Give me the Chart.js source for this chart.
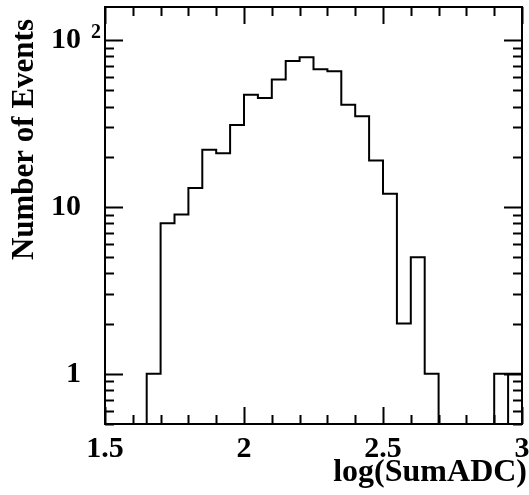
<!DOCTYPE html>
<html>
<head>
<meta charset="utf-8">
<script src="https://cdn.jsdelivr.net/npm/chart.js@4.4.1/dist/chart.umd.min.js"></script>
<style>
  html, body { margin: 0; padding: 0; background: #fff; }
  #wrap { width: 529px; height: 495px; }
</style>
</head>
<body>
<div id="wrap"><canvas id="hist" width="529" height="495"></canvas></div>
<script>
// --- data ---
const binEdges = [1.50, 1.55, 1.60, 1.65, 1.70, 1.75, 1.80, 1.85, 1.90, 1.95,
                  2.00, 2.05, 2.10, 2.15, 2.20, 2.25, 2.30, 2.35, 2.40, 2.45,
                  2.50, 2.55, 2.60, 2.65, 2.70, 2.75, 2.80, 2.85, 2.90, 2.95, 3.00];
const counts = [0, 0, 0, 1, 8, 9, 13, 22, 21, 31,
                47, 45, 58, 75, 79, 67, 65, 41, 35, 19,
                12, 2, 5, 1, 0, 0, 0, 0, 1, 1];
const xTicks = [1.5, 2, 2.5, 3];
const xTickLabels = ['1.5', '2', '2.5', '3'];
const yTicks = [1, 10, 100];
const yTickLabels = ['1', '10', '10'];
const yTickSup = ['', '', '2'];
const xTitle = 'log(SumADC)';
const yTitle = 'Number of Events';

const Y_MIN = 0.5, Y_MAX = 158;
const FONT = '"Liberation Serif", "Times New Roman", serif';

// outline of the histogram; empty bins sit on the floor of the log axis
const outline = [];
counts.forEach((c, i) => {
  const v = c > 0 ? c : Y_MIN;
  outline.push({ x: binEdges[i], y: v });
  outline.push({ x: binEdges[i + 1], y: v });
});
// the last bin is closed on its left side too
const last = counts.length - 1;
const lastEdge = [
  { x: binEdges[last], y: Y_MIN },
  { x: binEdges[last], y: counts[last] }
];

// frame, inward ticks, superscripts and axis titles (ROOT look)
const rootFrame = {
  id: 'rootFrame',
  afterDraw(chart) {
    const { ctx, chartArea: a, scales: { x, y } } = chart;
    ctx.save();
    ctx.strokeStyle = '#000';
    ctx.lineWidth = 2;
    ctx.strokeRect(a.left, a.top, a.right - a.left, a.bottom - a.top);

    ctx.beginPath();
    // x ticks every 0.1, major at the labelled values
    for (let k = 15; k <= 30; k++) {
      const v = k / 10;
      const px = Math.round(x.getPixelForValue(v)) + 0.5;
      const len = xTicks.some(t => Math.abs(t - v) < 1e-6) ? 17 : 9;
      ctx.moveTo(px, a.bottom); ctx.lineTo(px, a.bottom - len);
      ctx.moveTo(px, a.top); ctx.lineTo(px, a.top + len);
    }
    // y ticks: 1..9 per decade
    for (let d = -1; d <= 2; d++) {
      for (let m = 1; m <= 9; m++) {
        const v = m * Math.pow(10, d);
        if (v < Y_MIN || v > Y_MAX) continue;
        const py = Math.round(y.getPixelForValue(v)) + 0.5;
        const len = m === 1 ? 18 : 9;
        ctx.moveTo(a.left, py); ctx.lineTo(a.left + len, py);
        ctx.moveTo(a.right, py); ctx.lineTo(a.right - len, py);
      }
    }
    ctx.lineWidth = 2;
    ctx.stroke();

    ctx.fillStyle = '#000';
    // exponents of the y labels
    ctx.font = 'bold 20px ' + FONT;
    ctx.textAlign = 'left';
    ctx.textBaseline = 'alphabetic';
    yTicks.forEach((t, i) => {
      if (yTickSup[i]) ctx.fillText(yTickSup[i], a.left - 14, y.getPixelForValue(t) - 2);
    });

    // axis titles, right aligned like ROOT
    ctx.font = 'bold 32px ' + FONT;
    ctx.textAlign = 'right';
    ctx.fillText(xTitle, 527, 481);
    ctx.font = 'bold 31px ' + FONT;
    ctx.translate(33, 19);
    ctx.rotate(-Math.PI / 2);
    ctx.fillText(yTitle, 0, 0);
    ctx.restore();
  }
};

new Chart(document.getElementById('hist'), {
  type: 'line',
  data: {
    datasets: [
      { data: outline, borderColor: '#000', borderWidth: 2, pointRadius: 0, tension: 0, fill: false },
      { data: lastEdge, borderColor: '#000', borderWidth: 2, pointRadius: 0, tension: 0, fill: false }
    ]
  },
  options: {
    responsive: false,
    animation: false,
    devicePixelRatio: 1,
    layout: { padding: { top: 7, right: 7, left: 0, bottom: 0 } },
    plugins: { legend: { display: false }, tooltip: { enabled: false } },
    scales: {
      x: {
        type: 'linear',
        min: 1.5, max: 3,
        grid: { display: false, drawTicks: false },
        border: { display: false },
        afterFit: s => { s.height = 71; s.paddingLeft = 0; s.paddingRight = 0; },
        afterBuildTicks: s => { s.ticks = xTicks.map(v => ({ value: v })); },
        ticks: {
          padding: 7,
          color: '#000',
          font: { family: FONT, size: 30, weight: 'bold' },
          maxRotation: 0,
          autoSkip: false,
          callback: (v, i) => xTickLabels[i]
        }
      },
      y: {
        type: 'logarithmic',
        min: Y_MIN, max: Y_MAX,
        grid: { display: false, drawTicks: false },
        border: { display: false },
        afterFit: s => { s.width = 105; s.paddingTop = 0; s.paddingBottom = 0; },
        afterBuildTicks: s => { s.ticks = yTicks.map(v => ({ value: v })); },
        ticks: {
          padding: 24,
          color: '#000',
          font: { family: FONT, size: 30, weight: 'bold' },
          autoSkip: false,
          callback: (v, i) => yTickLabels[i]
        }
      }
    }
  },
  plugins: [rootFrame]
});
</script>
</body>
</html>
